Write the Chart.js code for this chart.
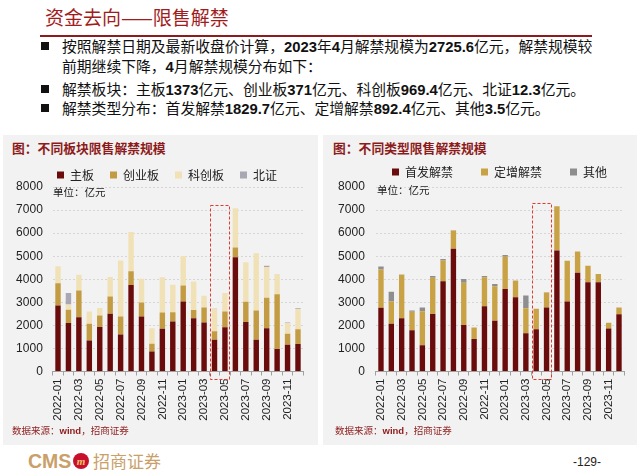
<!DOCTYPE html>
<html><head><meta charset="utf-8">
<script src="https://cdn.jsdelivr.net/npm/chart.js@4/dist/chart.umd.min.js"></script>
<style>
html,body{margin:0;padding:0;}
body{width:640px;height:471px;background:#fff;position:relative;overflow:hidden;font-family:"Noto Sans CJK SC",sans-serif;color:#111;}
.a{position:absolute;white-space:nowrap;}
.t{font-size:14.8px;line-height:18px;}
.t b{font-family:"Liberation Sans",Arial,sans-serif;font-weight:bold;}
.sq{position:absolute;width:8px;height:8px;background:#111;}
.panel{position:absolute;background:#f2f2f2;}
.ptitle{font-size:12.8px;font-weight:bold;color:#8e1b1b;line-height:18px;}
.unit{font-size:10.5px;color:#222;line-height:14px;}
.src{font-size:9.5px;color:#8e1b1b;line-height:12px;}
.src b{font-family:"Liberation Sans",Arial,sans-serif;}
</style></head>
<body>
<div class="a" style="left:45px;top:3px;font-size:19px;line-height:28px;color:#a01d1d;">资金去向——限售解禁</div>
<div class="a" style="left:40px;top:35px;width:552px;height:2px;background:#8e1b1b;"></div>

<div class="sq" style="left:41px;top:42px;"></div>
<div class="a t" style="left:62px;top:37px;">按照解禁日期及最新收盘价计算，<b>2023</b>年<b>4</b>月解禁规模为<b>2725.6</b>亿元，解禁规模较</div>
<div class="a t" style="left:62px;top:57px;">前期继续下降，<b>4</b>月解禁规模分布如下：</div>
<div class="sq" style="left:41px;top:85px;"></div>
<div class="a t" style="left:62px;top:80px;">解禁板块：主板<b>1373</b>亿元、创业板<b>371</b>亿元、科创板<b>969.4</b>亿元、北证<b>12.3</b>亿元。</div>
<div class="sq" style="left:41px;top:104px;"></div>
<div class="a t" style="left:62px;top:99px;">解禁类型分布：首发解禁<b>1829.7</b>亿元、定增解禁<b>892.4</b>亿元、其他<b>3.5</b>亿元。</div>

<div class="panel" style="left:3px;top:135px;width:315px;height:310px;"></div>
<div class="panel" style="left:323px;top:135px;width:314px;height:310px;"></div>

<div class="a ptitle" style="left:12px;top:139px;">图：不同板块限售解禁规模</div>
<div class="a ptitle" style="left:333px;top:139px;">图：不同类型限售解禁规模</div>

<div class="a" style="left:3px;top:153px;width:315px;height:275px;"><canvas id="c1"></canvas></div>
<div class="a" style="left:323px;top:138px;width:313px;height:290px;"><canvas id="c2"></canvas></div>

<div class="a unit" style="left:53px;top:185px;">单位：亿元</div>
<div class="a unit" style="left:377px;top:183px;">单位：亿元</div>

<div class="a src" style="left:12px;top:424px;">数据来源：<b>wind</b>，招商证券</div>
<div class="a src" style="left:335px;top:424px;">数据来源：<b>wind</b>，招商证券</div>

<div class="a" style="left:28px;top:449px;font-family:'Liberation Sans',Arial,sans-serif;font-weight:bold;font-size:19.5px;line-height:24px;color:#caa06a;">CMS</div>
<div class="a" style="left:73px;top:453px;width:16px;height:16px;border-radius:50%;background:#c8102e;color:#f3c26b;font-size:11px;line-height:16px;text-align:center;font-style:italic;font-weight:bold;font-family:'Liberation Serif',serif;">m</div>
<div class="a" style="left:93px;top:449px;font-size:17px;line-height:24px;color:#caa06a;">招商证券</div>
<div class="a" style="left:573px;top:454px;font-family:'Liberation Sans',Arial,sans-serif;font-size:12px;line-height:16px;color:#222;">-129-</div>

<script>
const categories = ['2022-01','2022-02','2022-03','2022-04','2022-05','2022-06','2022-07','2022-08','2022-09','2022-10','2022-11','2022-12',
                    '2023-01','2023-02','2023-03','2023-04','2023-05','2023-06','2023-07','2023-08','2023-09','2023-10','2023-11','2023-12'];
// 不同板块（亿元）
const mainBoard   = [2860,2100,2350,1340,1930,2500,1600,3750,2380,870,1850,2170,3030,2310,2120,1373,1920,4950,2150,1380,1870,980,1160,1190];
const chinext     = [970,580,1160,730,500,750,780,600,610,330,710,400,700,360,650,371,680,430,870,1270,1330,2370,480,640];
const starMarket  = [730,230,680,530,320,850,2430,1700,1030,680,1530,1190,1280,1230,510,969.4,800,1700,1720,2480,1330,880,450,880];
const bse         = [0,490,0,0,0,0,0,0,0,0,0,0,0,0,0,12.3,0,0,0,0,50,0,30,30];
// 不同类型（亿元）
const ipoUnlock   = [2760,2070,2310,1790,1140,2490,3910,5320,2020,1410,2830,2200,3580,3220,1660,1829.7,2780,5250,3040,4280,3870,3870,1860,2480];
const placement   = [1660,970,1880,800,1470,1580,900,790,1830,500,1260,1500,1400,720,1080,892.4,650,1920,1760,920,720,360,250,300];
const otherUnlock = [130,420,20,50,170,70,70,20,160,0,50,90,70,10,550,3.5,10,0,0,0,0,0,0,0];
const yMin = 0, yMax = 8000, yStep = 1000;

const boxPlugin = {
  id:'hlbox',
  afterDraw(chart, args, o){
    const x = chart.scales.x, y = chart.scales.y, ctx = chart.ctx;
    const cw = x.getPixelForValue(1) - x.getPixelForValue(0);
    const l = x.getPixelForValue(o.from) - cw*0.42;
    const r = x.getPixelForValue(o.to) + cw*0.42;
    const t = y.getPixelForValue(o.top);
    const b = y.getPixelForValue(0) + o.below;
    ctx.save();
    ctx.strokeStyle = '#e23b2e'; ctx.lineWidth = 1; ctx.setLineDash([3,2]);
    ctx.strokeRect(Math.round(l)+0.5, Math.round(t)+0.5, Math.round(r-l), Math.round(b-t));
    ctx.restore();
  }
};
// legend: fixed height, single row, starting at a given x
const legendPlace = {
  id:'legendPlace',
  beforeInit(chart, args, o){
    const lg = chart.legend; if(!lg) return;
    const fit = lg.fit;
    lg.fit = function(){
      const mw = this.maxWidth; this.maxWidth = 2000;
      fit.call(this);
      this.maxWidth = mw; this.width = mw; this.height = o.h;
    };
  },
  afterLayout(chart, args, o){
    const lg = chart.legend; if(!lg) return;
    lg.left = o.left; lg.right = chart.width + 1000;
  }
};

function makeChart(id, series, o){
  const datasets = series.map(s => ({label:s[0], data:s[1], backgroundColor:s[2], borderWidth:0,
    categoryPercentage:1.0, barPercentage:0.52}));
  return new Chart(document.getElementById(id), {
    type:'bar',
    data:{labels:categories, datasets},
    options:{
      responsive:true, maintainAspectRatio:false, animation:false,
      layout:{padding:{left:0, right:o.padR, top:0, bottom:0}},
      plugins:{
        legend:{display:true, position:'top', align:'start',
          labels:{boxWidth:7, boxHeight:7, padding:o.legPad, color:'#222',
            font:{family:'"Noto Sans CJK SC", sans-serif', size:12}}},
        tooltip:{enabled:false},
        legendPlace:{h:o.legH, left:o.legLeft},
        hlbox:{from:15, to:16, top:o.boxTop, below:8}
      },
      scales:{
        x:{stacked:true, offset:true,
          grid:{display:true, drawOnChartArea:false, drawTicks:true, tickLength:4, color:'#a0a0a0'},
          border:{display:true, color:'#a0a0a0'},
          ticks:{autoSkip:false, maxRotation:90, minRotation:90, padding:3, color:'#222',
            font:{family:'"Liberation Sans", Arial, sans-serif', size:11.5},
            callback(v,i){ return i%2===0 ? categories[i] : ''; }},
          afterFit(s){ s.height = o.xH; }
        },
        y:{stacked:true, min:yMin, max:yMax,
          grid:{color:'#d6d6d6', drawTicks:false},
          border:{display:false, dash:[2,2]},
          ticks:{stepSize:yStep, autoSkip:false, padding:o.yPad, color:'#222',
            font:{family:'"Liberation Sans", Arial, sans-serif', size:12},
            callback(v){ return String(v); }},
          afterFit(s){ s.width = o.yW; }
        }
      }
    },
    plugins:[boxPlugin, legendPlace]
  });
}

makeChart('c1', [
  ['主板', mainBoard, '#6b0c0c'],
  ['创业板', chinext, '#c39b42'],
  ['科创板', starMarket, '#f1e1b6'],
  ['北证', bse, '#aaa6b4']
], {padR:14.8, legPad:16, legH:34, legLeft:38, xH:56.5, yW:49.8, yPad:10, boxTop:7200});

makeChart('c2', [
  ['首发解禁', ipoUnlock, '#6b0c0c'],
  ['定增解禁', placement, '#c9a245'],
  ['其他', otherUnlock, '#8e8e8e']
], {padR:9.8, legPad:28, legH:49, legLeft:41, xH:56.5, yW:52.8, yPad:11, boxTop:7300});
</script>
</body></html>
